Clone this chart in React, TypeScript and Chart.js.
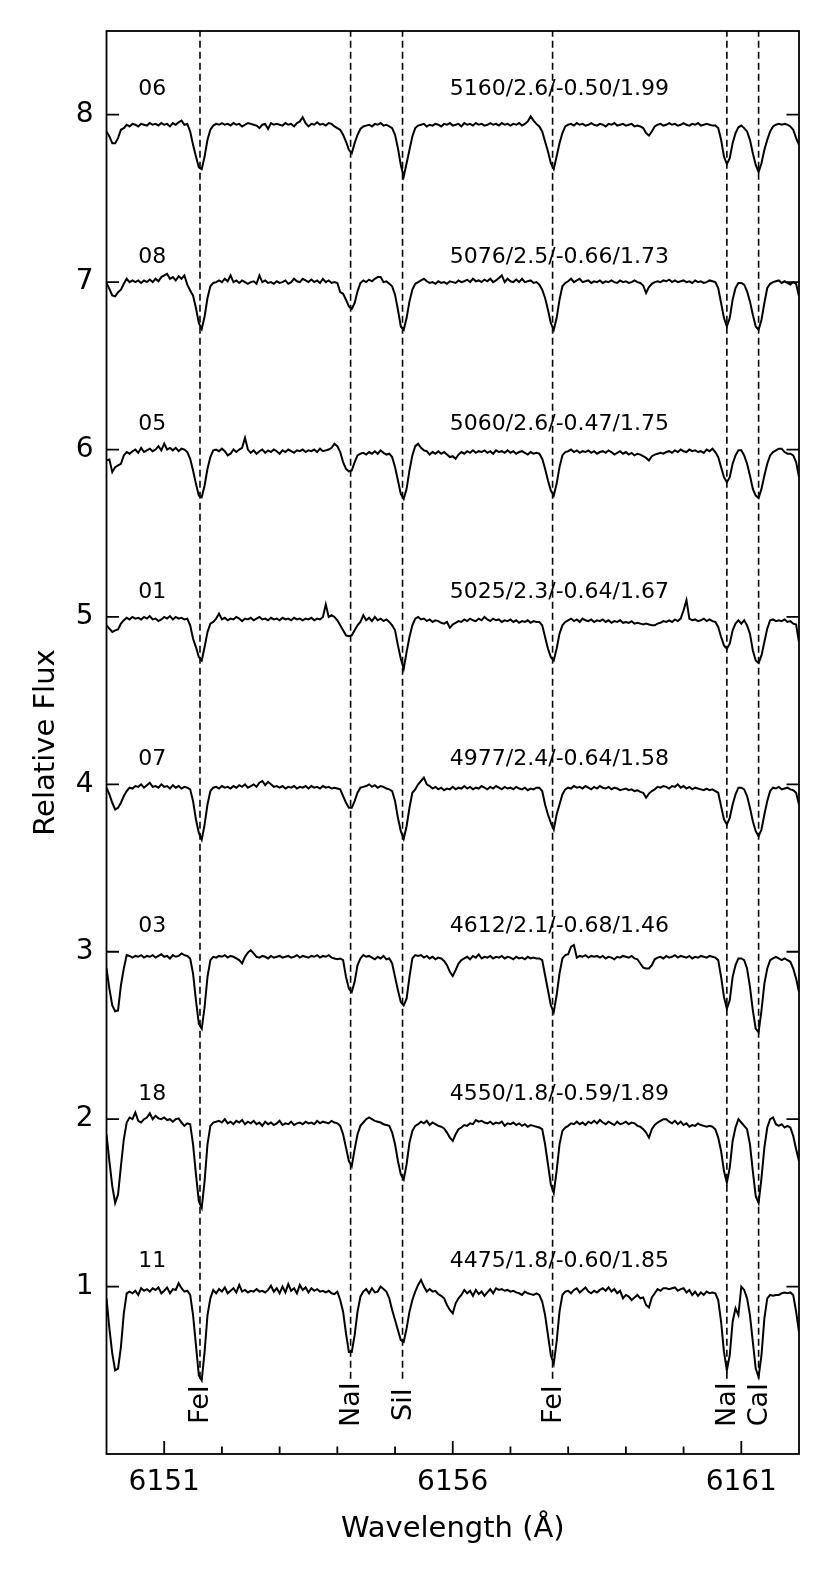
import React, { useEffect, useRef } from 'react';
import { Chart, registerables } from 'chart.js';

Chart.register(...registerables);

// Wavelength sampling of the spectra (Angstrom)
const WL_START = 6150.0;
const WL_STEP = 0.05;

const starIds = ['06', '08', '05', '01', '07', '03', '18', '11'];
const starParams = [
  '5160/2.6/-0.50/1.99',
  '5076/2.5/-0.66/1.73',
  '5060/2.6/-0.47/1.75',
  '5025/2.3/-0.64/1.67',
  '4977/2.4/-0.64/1.58',
  '4612/2.1/-0.68/1.46',
  '4550/1.8/-0.59/1.89',
  '4475/1.8/-0.60/1.85',
];
const offsets = [7, 6, 5, 4, 3, 2, 1, 0];

const flux06 = [
  0.90, 0.87, 0.83, 0.83, 0.86, 0.91, 0.92, 0.94, 0.93, 0.945,
  0.94, 0.93, 0.945, 0.94, 0.935, 0.95, 0.94, 0.945, 0.935, 0.95,
  0.94, 0.945, 0.93, 0.95, 0.94, 0.955, 0.965, 0.94, 0.945, 0.90,
  0.82, 0.75, 0.685, 0.675, 0.75, 0.85, 0.91, 0.935, 0.945, 0.94,
  0.95, 0.94, 0.945, 0.935, 0.95, 0.94, 0.945, 0.93, 0.94, 0.95,
  0.945, 0.94, 0.935, 0.92, 0.94, 0.945, 0.915, 0.95, 0.94, 0.945,
  0.94, 0.935, 0.95, 0.94, 0.945, 0.93, 0.95, 0.96, 0.985, 0.95,
  0.93, 0.945, 0.94, 0.955, 0.94, 0.945, 0.935, 0.95, 0.945, 0.93,
  0.92, 0.91, 0.88, 0.84, 0.79, 0.77, 0.83, 0.88, 0.915, 0.93,
  0.935, 0.94, 0.93, 0.945, 0.94, 0.95, 0.935, 0.94, 0.93, 0.92,
  0.88, 0.80, 0.70, 0.63, 0.71, 0.79, 0.87, 0.92, 0.935, 0.94,
  0.945, 0.93, 0.94, 0.935, 0.945, 0.94, 0.93, 0.945, 0.94, 0.95,
  0.935, 0.94, 0.945, 0.93, 0.95, 0.94, 0.945, 0.935, 0.95, 0.94,
  0.945, 0.935, 0.94, 0.95, 0.94, 0.945, 0.935, 0.95, 0.94, 0.945,
  0.935, 0.945, 0.94, 0.95, 0.935, 0.945, 0.96, 0.99, 0.965, 0.945,
  0.93, 0.90, 0.84, 0.78, 0.71, 0.675, 0.75, 0.83, 0.89, 0.93,
  0.94, 0.945, 0.935, 0.95, 0.94, 0.945, 0.935, 0.94, 0.95, 0.94,
  0.935, 0.945, 0.94, 0.93, 0.945, 0.94, 0.95, 0.935, 0.94, 0.945,
  0.935, 0.94, 0.945, 0.93, 0.935, 0.93, 0.92, 0.89, 0.875, 0.90,
  0.93, 0.94, 0.945, 0.935, 0.94, 0.95, 0.94, 0.945, 0.935, 0.94,
  0.95, 0.94, 0.935, 0.945, 0.94, 0.95, 0.935, 0.94, 0.945, 0.94,
  0.935, 0.935, 0.92, 0.85, 0.75, 0.705, 0.74, 0.83, 0.89, 0.925,
  0.935, 0.92, 0.90, 0.85, 0.77, 0.70, 0.657, 0.71, 0.79, 0.85,
  0.90, 0.93, 0.94, 0.945, 0.94, 0.945, 0.94, 0.93, 0.91, 0.86,
  0.82,
];

const flux08 = [
  0.995, 0.96, 0.92, 0.915, 0.94, 0.955, 0.99, 1.02, 1.0, 1.01,
  1.0, 1.01, 0.995, 1.01, 1.0, 1.015, 1.0, 1.02, 1.005, 1.03,
  1.04, 1.05, 1.02, 1.03, 1.01, 1.035, 1.02, 1.04, 0.985, 0.95,
  0.92, 0.845, 0.755, 0.72, 0.795, 0.905, 0.975, 0.995, 1.0, 1.01,
  1.0, 1.02, 1.005, 1.04, 1.0, 1.01, 0.995, 1.01, 1.0, 0.99,
  1.0, 1.005, 0.99, 1.04, 1.0, 1.01, 0.995, 1.0, 0.99, 1.005,
  0.995, 1.0, 1.01, 0.99, 1.0, 1.02, 1.005, 1.0, 1.02, 1.01,
  1.0, 1.015, 1.0, 1.01, 0.995, 1.02, 1.0, 1.01, 0.995, 1.0,
  0.995, 0.94, 0.93, 0.895, 0.855, 0.84, 0.875, 0.945, 0.995, 1.01,
  1.0, 1.015, 1.005, 1.02, 1.03, 1.03, 1.0, 1.005, 0.99, 0.975,
  0.925, 0.835, 0.735, 0.715, 0.785, 0.885, 0.955, 0.99, 1.0, 1.01,
  1.02, 1.005, 0.995, 1.0, 0.99, 1.005, 0.995, 1.0, 0.99, 1.005,
  1.0, 0.995, 1.01, 1.0, 1.005, 1.015, 1.0, 1.02, 1.005, 1.01,
  1.0, 1.015, 1.005, 1.02, 1.0, 1.01, 1.025, 1.04, 1.0, 1.02,
  1.005, 1.0, 1.015, 1.0, 1.02, 1.0, 1.005, 1.01, 0.995, 1.0,
  0.985, 0.955, 0.905, 0.835, 0.755, 0.715, 0.785, 0.895, 0.975, 0.995,
  1.005, 1.02, 1.0, 1.01, 1.02, 1.0, 1.005, 1.01, 0.995, 1.005,
  1.0, 1.01, 0.995, 1.005, 1.0, 1.01, 1.0, 0.995, 1.01, 1.0,
  1.005, 0.995, 1.0, 1.01, 1.0, 0.995, 0.98, 0.935, 0.97, 0.99,
  1.0, 1.005, 1.0, 1.01, 1.005, 1.015, 1.0, 1.01, 1.0, 1.005,
  1.01, 1.0, 1.005, 0.995, 1.01, 1.0, 1.005, 0.995, 1.0, 1.01,
  1.005, 1.0, 0.965, 0.875, 0.785, 0.735, 0.785, 0.895, 0.965, 0.995,
  0.995, 0.985, 0.945, 0.885, 0.805, 0.735, 0.715, 0.775, 0.875, 0.965,
  0.99, 1.0, 1.005, 1.01, 0.995, 1.005, 0.995, 0.985, 1.0, 0.99,
  0.915,
];

const flux05 = [
  0.935, 0.94, 0.865, 0.895, 0.905, 0.915, 0.965, 0.985, 0.975, 0.99,
  1.0, 0.98, 1.01, 0.985, 0.995, 1.005, 0.99, 1.0, 1.02, 0.995,
  1.035, 1.0, 1.01, 0.995, 1.01, 0.99, 1.005, 1.0, 0.985, 0.945,
  0.875, 0.795, 0.725, 0.715, 0.785, 0.885, 0.955, 0.995, 1.0, 0.99,
  1.005, 0.99, 0.965, 0.975, 1.0, 0.985, 1.0, 1.01, 1.07, 1.0,
  0.98, 0.995, 0.975, 0.99, 1.0, 0.98, 0.995, 0.985, 1.0, 0.99,
  0.975, 0.995, 0.985, 1.0, 0.99, 0.98, 0.995, 0.99, 1.0, 0.985,
  0.995, 0.99, 1.0, 0.985, 1.005, 0.99, 0.995, 1.0, 1.01, 1.035,
  1.02, 0.985, 0.925, 0.885, 0.87, 0.875, 0.925, 0.965, 0.975, 0.98,
  0.97, 0.985, 0.975, 0.99, 0.975, 0.995, 0.98, 0.97, 0.975, 0.955,
  0.895, 0.815, 0.735, 0.705, 0.765, 0.875, 0.965, 1.02, 1.035, 1.01,
  0.995, 0.99, 0.97, 0.985, 0.975, 0.99, 0.975, 0.985, 0.97, 0.955,
  0.96, 0.945, 0.97, 0.985, 0.975, 0.99, 0.98, 0.995, 0.98, 0.99,
  0.985, 0.995, 0.98, 0.99, 0.975, 0.995, 0.985, 0.99, 0.98, 0.995,
  0.98, 0.99, 0.975, 0.985, 0.99, 0.98, 0.97, 0.985, 0.975, 0.98,
  0.975, 0.945, 0.885, 0.815, 0.755, 0.725, 0.795, 0.895, 0.965, 0.985,
  0.99, 1.0, 0.985, 0.995, 0.98, 0.99, 0.985, 0.995, 0.98, 0.99,
  0.975, 0.985, 0.99, 0.98, 0.995, 0.985, 0.97, 0.98, 0.99, 0.975,
  0.985, 0.97, 0.98, 0.965, 0.975, 0.97, 0.96, 0.95, 0.935, 0.96,
  0.97, 0.975, 0.98, 0.975, 0.985, 0.99, 0.98, 0.995, 0.985, 1.0,
  0.99, 0.985, 1.0, 0.99, 0.995, 0.985, 0.99, 0.98, 1.0, 0.99,
  1.005, 0.985, 0.955, 0.895, 0.835, 0.805, 0.835, 0.915, 0.965, 0.995,
  0.995, 0.965, 0.915, 0.845, 0.765, 0.725, 0.71, 0.765, 0.845, 0.915,
  0.965, 0.985, 0.995, 1.005, 1.005, 0.985, 0.975, 0.975, 0.965, 0.925,
  0.835,
];

const flux01 = [
  0.95, 0.93, 0.91, 0.92, 0.925, 0.96, 0.98, 0.995, 0.985, 1.0,
  0.99, 0.995, 0.985, 1.0, 0.99, 1.005, 0.985, 0.99, 0.975, 0.985,
  1.0, 0.99, 1.005, 0.985, 1.0, 0.99, 0.995, 0.985, 0.99, 0.95,
  0.87, 0.82, 0.76, 0.74, 0.82, 0.91, 0.96, 0.97, 0.99, 1.02,
  0.985, 0.995, 0.98, 0.99, 0.985, 1.0, 0.99, 0.975, 0.99, 0.985,
  0.995, 0.98, 0.99, 1.0, 0.985, 0.99, 0.98, 0.995, 0.985, 0.99,
  0.98, 0.995, 0.985, 0.99, 0.98, 0.995, 0.985, 0.99, 0.98, 0.99,
  0.985, 0.995, 0.98, 0.99, 0.985, 1.0, 1.075, 1.0, 1.01, 1.0,
  0.98, 0.95, 0.92, 0.89, 0.885, 0.89, 0.92, 0.95, 0.97, 1.01,
  0.98, 0.995, 0.975, 1.0, 0.98, 0.99, 0.975, 0.985, 0.97, 0.95,
  0.92, 0.83, 0.75, 0.69, 0.79, 0.88, 0.95, 0.99, 1.0, 0.985,
  0.99, 0.975, 0.985, 0.97, 0.98, 0.975, 0.965, 0.96, 0.97, 0.935,
  0.955, 0.965, 0.975, 0.97, 0.985, 0.975, 0.99, 0.98, 0.975, 0.99,
  0.98, 1.0, 0.985, 0.975, 0.99, 0.98, 0.985, 0.97, 0.98, 0.975,
  0.985, 0.97, 0.98, 0.965, 0.975, 0.97, 0.98, 0.965, 0.975, 0.97,
  0.97, 0.95, 0.88, 0.81, 0.76, 0.74, 0.81, 0.90, 0.95, 0.97,
  0.98, 0.99, 0.975, 0.985, 0.97, 0.99, 0.98, 0.975, 0.985, 0.97,
  0.98, 0.975, 0.985, 0.97, 0.98, 0.965, 0.975, 0.97, 0.98, 0.965,
  0.97, 0.965, 0.975, 0.96, 0.965, 0.96, 0.955, 0.96, 0.955, 0.95,
  0.95, 0.96, 0.965, 0.975, 0.97, 0.98, 0.97, 0.985, 0.975, 0.99,
  1.04, 1.10, 0.99, 0.98, 0.985, 0.975, 0.98, 0.99, 0.975, 0.985,
  0.975, 0.97, 0.94, 0.88, 0.83, 0.81, 0.84, 0.92, 0.96, 0.98,
  0.96, 0.98, 0.95, 0.90, 0.80, 0.74, 0.725, 0.77, 0.85, 0.93,
  0.98, 0.985, 0.975, 0.98, 0.975, 0.985, 0.97, 0.975, 0.96, 0.955,
  0.85,
];

const flux07 = [
  0.98, 0.94, 0.89, 0.85, 0.86, 0.89, 0.93, 0.96, 0.98, 0.975,
  0.99, 0.985, 1.0, 0.98, 0.995, 1.01, 0.985, 0.99, 0.98, 1.0,
  0.985, 0.99, 0.975, 0.995, 0.98, 0.99, 0.975, 0.985, 0.98, 0.97,
  0.90, 0.79, 0.71, 0.67, 0.76, 0.88, 0.96, 0.98, 0.985, 0.975,
  0.99, 0.98, 0.985, 0.975, 0.99, 0.98, 0.995, 0.985, 1.0, 0.98,
  0.99, 1.0, 0.985, 1.01, 1.02, 0.995, 1.015, 1.0, 0.985, 0.99,
  0.98, 0.99, 0.975, 0.985, 0.98, 0.99, 0.975, 0.985, 0.98, 0.99,
  0.975, 0.99, 0.98, 0.985, 0.975, 0.99, 0.98, 0.985, 0.975, 0.98,
  0.975, 0.97, 0.93, 0.89, 0.86, 0.86, 0.90, 0.95, 0.98, 0.985,
  0.99, 1.0, 0.985, 0.995, 0.98, 0.99, 0.985, 0.975, 0.97, 0.96,
  0.90, 0.80, 0.72, 0.675, 0.75, 0.86, 0.95, 0.97, 1.0, 1.02,
  1.04, 1.0, 0.99, 0.975, 0.985, 0.97, 0.98, 0.965, 0.975, 0.97,
  0.985, 0.97, 0.98, 0.975, 0.99, 0.975, 0.985, 0.97, 0.98, 0.975,
  0.99, 0.98, 0.97, 0.985, 0.975, 0.99, 0.98, 0.97, 0.985, 0.975,
  0.98, 0.97, 0.985, 0.975, 0.97, 0.98, 0.965, 0.975, 0.97, 0.98,
  0.98, 0.96, 0.88, 0.82, 0.77, 0.73, 0.82, 0.88, 0.94, 0.97,
  0.98, 0.975, 0.99, 0.98, 0.985, 0.975, 0.99, 0.98, 0.97, 0.985,
  0.975, 0.99, 0.98, 0.975, 0.985, 0.97, 0.98, 0.975, 0.965, 0.97,
  0.975, 0.965, 0.97, 0.96, 0.965, 0.955, 0.95, 0.92, 0.945, 0.96,
  0.97, 0.985, 0.98, 0.99, 0.985, 0.975, 0.99, 0.985, 1.0, 0.98,
  0.99, 0.975, 0.985, 0.97, 0.98, 0.975, 0.97, 0.965, 0.975, 0.965,
  0.97, 0.96, 0.95, 0.87, 0.79, 0.76, 0.80, 0.88, 0.94, 0.98,
  0.98, 0.97, 0.93, 0.86, 0.78, 0.72, 0.69, 0.73, 0.82, 0.90,
  0.96, 0.98, 0.975, 0.985, 0.97, 0.975, 0.98, 0.97, 0.965, 0.95,
  0.88,
];

const flux03 = [
  0.90, 0.78, 0.68, 0.645, 0.65, 0.80, 0.90, 0.98, 0.975, 0.965,
  0.975, 0.97, 0.98, 0.965, 0.975, 0.97, 0.98, 0.965, 0.975, 0.985,
  0.97, 0.975, 0.96, 0.98, 0.97, 0.975, 0.99, 0.98, 0.975, 0.96,
  0.87, 0.71, 0.57, 0.54, 0.67, 0.85, 0.95, 0.97, 0.965, 0.975,
  0.97, 0.98, 0.965, 0.975, 0.97, 0.96, 0.95, 0.93, 0.97, 0.995,
  1.01, 0.99, 0.97, 0.965, 0.975, 0.97, 0.96, 0.975, 0.965, 0.97,
  0.975, 0.965, 0.97, 0.975, 0.965, 0.97, 0.98, 0.965, 0.975, 0.97,
  0.965, 0.975, 0.97, 0.98, 0.965, 0.975, 0.97, 0.98, 0.965, 0.96,
  0.955, 0.96, 0.95, 0.85, 0.78, 0.76, 0.82, 0.92, 0.96, 0.98,
  0.97, 0.975, 0.965, 0.955, 0.97, 0.96, 0.975, 0.955, 0.96, 0.93,
  0.85, 0.77, 0.70, 0.68, 0.72, 0.85, 0.96, 0.98, 0.975, 0.98,
  0.965, 0.975, 0.96, 0.97, 0.955, 0.965, 0.96, 0.945, 0.92, 0.88,
  0.855, 0.89, 0.93, 0.95, 0.96, 0.97, 0.955, 0.975, 0.965, 0.985,
  0.96, 0.97, 0.965, 0.975, 0.96, 0.97, 0.965, 0.975, 0.96, 0.97,
  0.965, 0.955, 0.97, 0.96, 0.965, 0.955, 0.97, 0.96, 0.965, 0.96,
  0.96, 0.95, 0.86, 0.77, 0.68, 0.64, 0.74, 0.87, 0.96, 0.98,
  0.985, 1.03, 1.04, 0.965, 0.975, 0.97, 0.98, 0.965, 0.975, 0.97,
  0.975, 0.965, 0.975, 0.96, 0.97, 0.965, 0.955, 0.97, 0.965, 0.975,
  0.97, 0.965, 0.975, 0.96, 0.955, 0.93, 0.905, 0.90, 0.90, 0.92,
  0.955, 0.965, 0.97, 0.96, 0.975, 0.965, 0.97, 0.98, 0.965, 0.975,
  0.97, 0.965, 0.975, 0.96, 0.97, 0.965, 0.975, 0.97, 0.965, 0.975,
  0.97, 0.965, 0.95, 0.85, 0.73, 0.66, 0.71, 0.85, 0.92, 0.96,
  0.96, 0.95, 0.90, 0.79, 0.65, 0.54, 0.52, 0.65, 0.81, 0.90,
  0.95, 0.96, 0.97, 0.96, 0.95, 0.96, 0.95, 0.94, 0.90, 0.84,
  0.76,
];

const flux18 = [
  0.91, 0.75, 0.60, 0.50, 0.55, 0.72, 0.88, 0.98, 1.01, 1.0,
  1.04, 0.99, 0.98, 1.0, 1.01, 1.035, 1.0, 1.02, 1.005, 1.0,
  1.01, 0.995, 1.0, 0.985, 1.0, 1.005, 0.98, 0.96, 0.975, 0.97,
  0.85, 0.67, 0.51, 0.47, 0.63, 0.85, 0.96, 0.98, 0.985, 0.99,
  0.98, 1.0, 0.975, 0.985, 0.97, 0.99, 0.98, 0.995, 0.97, 0.985,
  0.975, 0.99, 0.97, 0.98, 0.96, 0.985, 0.97, 0.98, 0.965, 0.975,
  0.99, 0.965, 0.975, 0.97, 0.985, 0.965, 0.975, 0.98, 0.97, 0.985,
  0.975, 0.98, 0.97, 0.99, 0.975, 0.985, 0.98, 0.975, 0.99, 0.98,
  0.975, 0.96, 0.91, 0.83, 0.75, 0.72, 0.82, 0.91, 0.96, 0.98,
  1.0, 1.01, 1.0, 0.99, 0.985, 0.98, 0.97, 0.965, 0.96, 0.92,
  0.85, 0.75, 0.67, 0.64, 0.73, 0.86, 0.93, 0.96, 0.97, 0.985,
  0.975, 0.99, 0.965, 0.98, 0.97, 0.96, 0.955, 0.945, 0.92, 0.89,
  0.87, 0.91, 0.94, 0.95, 0.965, 0.96, 0.975, 0.97, 0.995, 0.985,
  0.99, 0.98, 0.975, 0.985, 0.97, 0.98, 0.975, 0.985, 0.96, 0.975,
  0.97, 0.98, 0.965, 0.975, 0.96, 0.97, 0.955, 0.965, 0.96, 0.955,
  0.95, 0.94, 0.85, 0.73, 0.61, 0.56, 0.69, 0.85, 0.93, 0.95,
  0.96, 0.975, 0.97, 0.985, 0.97, 0.98, 0.965, 0.985, 0.975, 0.99,
  0.975, 0.995, 0.98, 0.97, 0.985, 0.975, 0.965, 0.985, 0.97, 0.975,
  0.985, 0.97, 0.98, 0.975, 0.96, 0.955, 0.94, 0.92, 0.89, 0.94,
  0.965, 0.98, 0.99, 1.0, 1.0, 0.985, 0.975, 0.99, 0.97, 0.985,
  0.965, 0.975, 0.955, 0.965, 0.96, 0.975, 0.965, 0.96, 0.955, 0.96,
  0.955, 0.94, 0.89, 0.81, 0.69, 0.62, 0.71, 0.87, 0.95, 1.0,
  0.98, 0.96, 0.94, 0.85, 0.69, 0.54, 0.50, 0.65, 0.83, 0.95,
  1.0, 1.01, 0.97, 0.96, 0.97, 0.95, 0.96, 0.95, 0.90, 0.82,
  0.75,
];

const flux11 = [
  0.93, 0.75, 0.60, 0.50, 0.51, 0.64, 0.84, 0.96, 0.97, 0.96,
  0.975, 0.95, 0.99, 0.975, 0.985, 0.97, 0.99, 0.98, 0.995, 0.96,
  0.975, 0.995, 0.96, 0.985, 0.98, 1.02, 0.99, 0.97, 0.975, 0.95,
  0.83, 0.65, 0.47, 0.44, 0.61, 0.83, 0.93, 0.98, 0.96, 0.985,
  0.97, 0.995, 0.96, 0.975, 0.99, 0.965, 1.01, 0.97, 0.98, 0.965,
  0.975, 0.97, 0.985, 0.97, 0.975, 0.965, 0.98, 1.005, 0.97, 0.99,
  0.96, 1.0, 0.965, 1.015, 0.975, 0.99, 0.96, 1.01, 0.98, 0.995,
  0.965, 0.99, 0.975, 0.985, 0.97, 0.975, 0.965, 0.975, 0.96, 0.955,
  0.97, 0.92, 0.85, 0.72, 0.61, 0.61, 0.71, 0.85, 0.94, 0.97,
  0.985, 0.96, 0.99, 0.965, 0.97, 1.0, 0.985, 0.97, 0.93, 0.86,
  0.80, 0.74, 0.68, 0.67, 0.75, 0.85, 0.92, 0.97, 1.01, 1.04,
  1.0, 0.97, 0.985, 0.97, 0.975, 0.955, 0.945, 0.93, 0.89, 0.86,
  0.84, 0.90, 0.93, 0.95, 0.98, 0.96, 0.975, 0.945, 0.98, 0.955,
  0.97, 0.945, 0.965, 0.985, 0.96, 0.99, 0.98, 0.985, 0.975, 0.98,
  0.97, 0.975, 0.965, 0.96, 0.95, 0.97, 0.96, 0.955, 0.95, 0.96,
  0.95, 0.91, 0.83, 0.71, 0.59, 0.54, 0.67, 0.85, 0.95, 0.97,
  0.975, 0.96, 0.98, 0.99, 0.965, 0.98, 0.995, 0.97, 0.96, 0.975,
  0.965, 0.98, 0.99, 0.975, 0.995, 0.97, 0.985, 0.96, 0.975, 0.93,
  0.95, 0.94, 0.92, 0.935, 0.95, 0.93, 0.935, 0.89, 0.875, 0.935,
  0.96, 0.985, 0.975, 0.99, 0.99, 0.985, 0.99, 0.995, 0.975, 0.985,
  0.99, 0.965, 0.98, 0.95, 0.97, 0.945, 0.965, 0.95, 0.97, 0.96,
  0.965, 0.96, 0.92, 0.79, 0.61, 0.50, 0.59, 0.79, 0.87, 0.83,
  1.0, 0.98, 0.93, 0.83, 0.67, 0.51, 0.46, 0.59, 0.81, 0.93,
  0.95, 0.945, 0.95, 0.95, 0.96, 0.965, 0.96, 0.965, 0.95, 0.85,
  0.73,
];

const spectra = [flux06, flux08, flux05, flux01, flux07, flux03, flux18, flux11];

const lineNames = ['FeI', 'NaI', 'SiI', 'FeI', 'NaI', 'CaI'];
const lineWavelengths = [6151.62, 6154.23, 6155.13, 6157.73, 6160.75, 6161.3];
const lineBottom = 0.45;
const lineLabelY = 0.295;

const xMajorTicks = [6151, 6156, 6161];
const xMinorTicks = [6152, 6153, 6154, 6155, 6157, 6158, 6159, 6160];
const yTicks = [1, 2, 3, 4, 5, 6, 7, 8];

const X_MIN = 6150;
const X_MAX = 6162;
const Y_MIN = 0;
const Y_MAX = 8.5;

const starLabelX = 6150.55;
const paramLabelX = 6155.95;
const labelDy = 1.15;

const FONT = "'DejaVu Sans', sans-serif";

export default function App() {
  const canvasRef = useRef<HTMLCanvasElement | null>(null);

  useEffect(() => {
    const canvas = canvasRef.current;
    if (!canvas) return;

    const spectrumSets = spectra.map((flux, k) => ({
      label: 'star ' + starIds[k],
      data: flux.map((f, i) => ({ x: WL_START + i * WL_STEP, y: f + offsets[k] })),
      borderColor: '#000',
      borderWidth: 2,
      pointRadius: 0,
      tension: 0,
      fill: false,
    }));

    const lineSets = lineWavelengths.map((w, k) => ({
      label: lineNames[k],
      data: [
        { x: w, y: lineBottom },
        { x: w, y: Y_MAX },
      ],
      borderColor: '#000',
      borderWidth: 1.6,
      borderDash: [7, 4],
      pointRadius: 0,
      tension: 0,
      fill: false,
    }));

    const decor = {
      id: 'decor',
      afterDatasetsDraw(chart: any) {
        const { ctx, chartArea, scales } = chart;
        const xs = scales.x;
        const ys = scales.y;
        ctx.save();
        ctx.fillStyle = '#000';
        ctx.strokeStyle = '#000';

        // star ids and parameters
        ctx.font = `22px ${FONT}`;
        ctx.textAlign = 'left';
        ctx.textBaseline = 'middle';
        for (let k = 0; k < starIds.length; k++) {
          const y = ys.getPixelForValue(offsets[k] + labelDy);
          ctx.fillText(starIds[k], xs.getPixelForValue(starLabelX), y);
          ctx.fillText(starParams[k], xs.getPixelForValue(paramLabelX), y);
        }

        // line identifications (rotated)
        ctx.font = `27px ${FONT}`;
        ctx.textAlign = 'center';
        ctx.textBaseline = 'middle';
        for (let k = 0; k < lineNames.length; k++) {
          ctx.save();
          ctx.translate(xs.getPixelForValue(lineWavelengths[k]), ys.getPixelForValue(lineLabelY));
          ctx.rotate(-Math.PI / 2);
          ctx.fillText(lineNames[k], 0, 1);
          ctx.restore();
        }

        // frame
        ctx.lineWidth = 1.8;
        ctx.strokeRect(chartArea.left, chartArea.top, chartArea.right - chartArea.left, chartArea.bottom - chartArea.top);

        // inward ticks
        ctx.lineWidth = 1.8;
        ctx.beginPath();
        for (const v of xMajorTicks) {
          const x = xs.getPixelForValue(v);
          ctx.moveTo(x, chartArea.bottom);
          ctx.lineTo(x, chartArea.bottom - 13);
        }
        for (const v of xMinorTicks) {
          const x = xs.getPixelForValue(v);
          ctx.moveTo(x, chartArea.bottom);
          ctx.lineTo(x, chartArea.bottom - 7.5);
        }
        for (const v of yTicks) {
          const y = ys.getPixelForValue(v);
          ctx.moveTo(chartArea.left, y);
          ctx.lineTo(chartArea.left + 12.5, y);
          ctx.moveTo(chartArea.right, y);
          ctx.lineTo(chartArea.right - 12.5, y);
        }
        ctx.stroke();
        ctx.restore();
      },
    };

    const chart = new Chart(canvas, {
      type: 'line',
      data: { datasets: [...lineSets, ...spectrumSets] as any },
      options: {
        responsive: false,
        maintainAspectRatio: false,
        devicePixelRatio: 1,
        animation: false,
        parsing: false as any,
        normalized: true,
        layout: { padding: { top: 31, right: 31, left: 0, bottom: 0 } },
        plugins: {
          legend: { display: false },
          tooltip: { enabled: false },
        },
        elements: { point: { radius: 0 } },
        scales: {
          x: {
            type: 'linear',
            min: X_MIN,
            max: X_MAX,
            afterBuildTicks: (s: any) => {
              s.ticks = xMajorTicks.map((v) => ({ value: v }));
            },
            afterFit: (s: any) => {
              s.height = 126;
            },
            ticks: {
              autoSkip: false,
              maxRotation: 0,
              padding: 12,
              color: '#000',
              font: { family: FONT, size: 28 },
              callback: (v: any) => String(v),
            },
            grid: { display: false, drawTicks: false },
            border: { display: false },
            title: {
              display: true,
              text: 'Wavelength (Å)',
              color: '#000',
              font: { family: FONT, size: 29 },
              padding: { top: 0, bottom: 33 },
            },
          },
          y: {
            type: 'linear',
            min: Y_MIN,
            max: Y_MAX,
            afterBuildTicks: (s: any) => {
              s.ticks = yTicks.map((v) => ({ value: v }));
            },
            afterFit: (s: any) => {
              s.width = 106.5;
            },
            ticks: {
              autoSkip: false,
              padding: 13,
              color: '#000',
              font: { family: FONT, size: 28 },
              callback: (v: any) => String(v),
            },
            grid: { display: false, drawTicks: false },
            border: { display: false },
            title: {
              display: true,
              text: 'Relative Flux',
              color: '#000',
              font: { family: FONT, size: 29 },
              padding: { top: 29, bottom: 0 },
            },
          },
        },
      },
      plugins: [decor],
    });

    return () => {
      chart.destroy();
    };
  }, []);

  return (
    <div style={{ position: 'absolute', left: 0, top: 0, width: 830, height: 1580, background: '#fff' }}>
      <canvas ref={canvasRef} width={830} height={1580} style={{ display: 'block', width: 830, height: 1580 }} />
    </div>
  );
}
